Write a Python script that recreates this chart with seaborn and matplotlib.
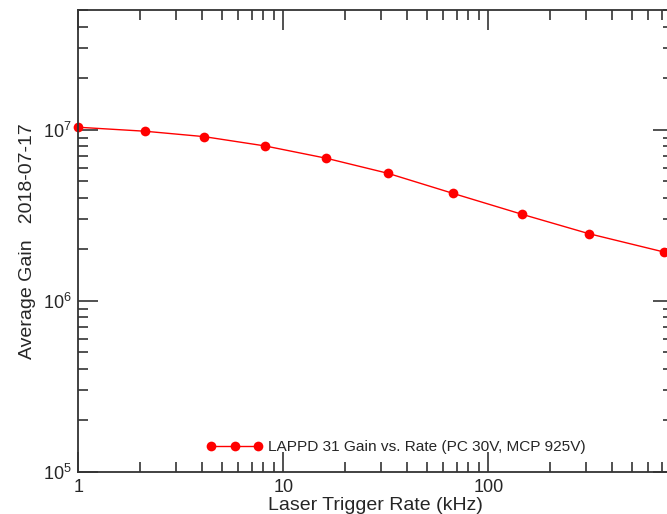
import matplotlib
matplotlib.use("Agg")
import matplotlib.pyplot as plt
import seaborn as sns
import pandas as pd
from matplotlib.ticker import LogLocator, NullFormatter

rate_khz = [1.0, 2.11, 4.1, 8.15, 16.2, 32.3, 67.0, 146.0, 310.0, 720.0]
avg_gain = [1.037e7, 9.83e6, 9.14e6, 8.06e6, 6.83e6, 5.58e6, 4.26e6, 3.21e6, 2.47e6, 1.93e6]
series_label = "LAPPD 31 Gain vs. Rate (PC 30V, MCP 925V)"
x_label = "Laser Trigger Rate (kHz)"
y_label = "Average Gain   2018-07-17"

sns.set_style("ticks")
plt.rcParams['font.family'] = ['Liberation Sans', 'DejaVu Sans']
plt.rcParams['mathtext.fontset'] = 'custom'
plt.rcParams['mathtext.rm'] = 'Liberation Sans'
plt.rcParams['mathtext.it'] = 'Liberation Sans'

df = pd.DataFrame({"rate": rate_khz, "gain": avg_gain})

fig = plt.figure(figsize=(6.67, 5.14), dpi=100)
W, H = 667, 514
left, right, top, bottom = 78.3, 673.4, 10.5, 471.7
ax = fig.add_axes([left / W, 1 - bottom / H, (right - left) / W, (bottom - top) / H])
ax.set_xscale('log')
ax.set_yscale('log')

sns.lineplot(data=df, x="rate", y="gain", ax=ax, color=(1, 0, 0), marker='o',
             markersize=7, markeredgewidth=0, linewidth=1.0, estimator=None,
             label=series_label, clip_on=False)

ax.set_xlim(1, 800)
ax.set_ylim(1e5, 5e7)

ax.xaxis.set_major_locator(LogLocator(base=10))
ax.xaxis.set_minor_locator(LogLocator(base=10, subs=range(2, 10)))
ax.yaxis.set_major_locator(LogLocator(base=10))
ax.yaxis.set_minor_locator(LogLocator(base=10, subs=range(2, 10)))
ax.xaxis.set_minor_formatter(NullFormatter())
ax.yaxis.set_minor_formatter(NullFormatter())
ax.set_xticks([1, 10, 100])
ax.set_xticklabels(["1", "10", "100"])

ax.tick_params(which='both', direction='in', top=True, right=True,
               color='#333333', width=1.2, labelsize=13, pad=5)
ax.tick_params(which='major', length=14.5)
ax.tick_params(which='minor', length=7.5)
ax.tick_params(axis='x', which='major', pad=5)
for s in ax.spines.values():
    s.set_color('#333333')
    s.set_linewidth(1.3)

ax.set_xlabel(x_label, fontsize=14, labelpad=1)
ax.set_ylabel(y_label, fontsize=14, labelpad=5)

leg = ax.legend(loc='center', bbox_to_anchor=(0.534, 0.0536), frameon=False,
                fontsize=11.1, numpoints=3, handlelength=3.65, handletextpad=0.35,
                borderpad=0, borderaxespad=0)

fig.savefig("out.png", dpi=100)
